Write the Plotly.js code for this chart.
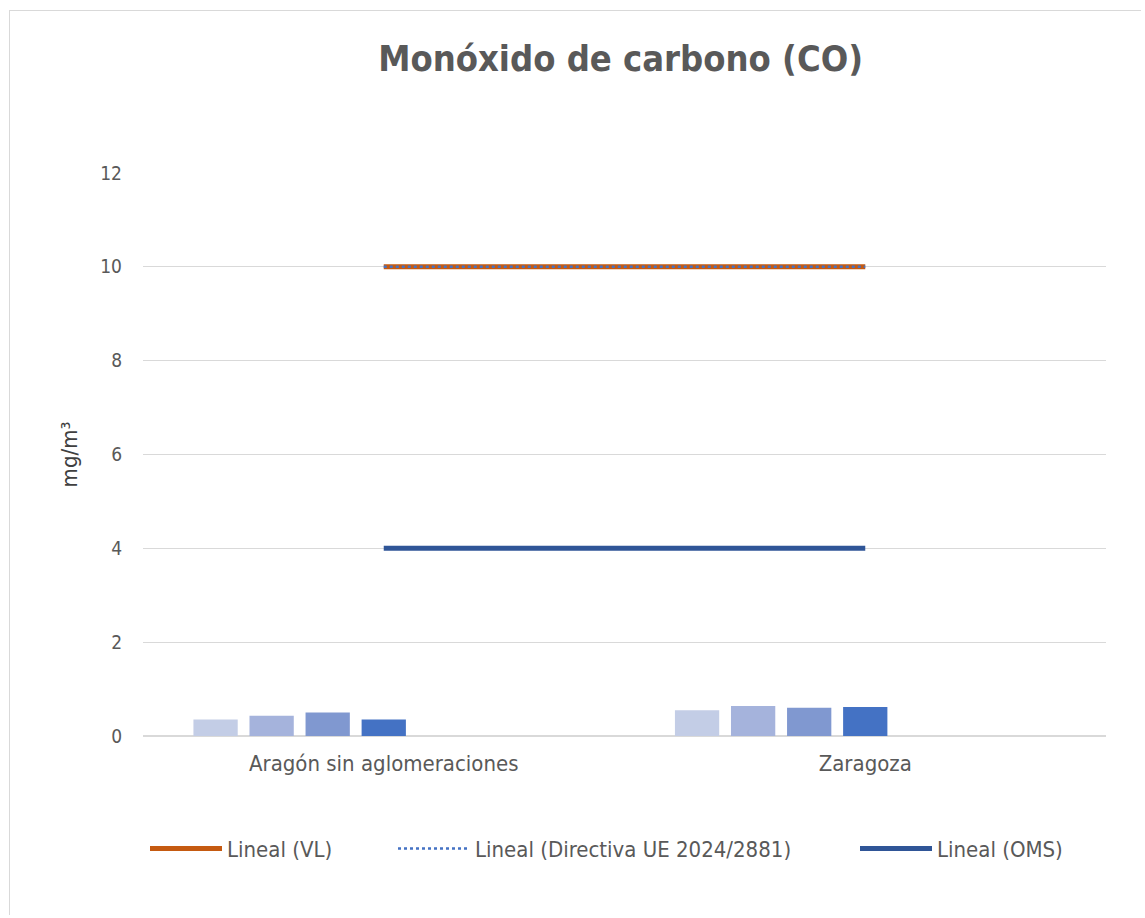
<!DOCTYPE html>
<html>
<head>
<meta charset="utf-8">
<script src="https://cdn.plot.ly/plotly-3.0.1.min.js"></script>
<style>
html,body{margin:0;padding:0;background:#fff;}
#wrap{position:relative;width:1145px;height:918px;}
#chart{position:absolute;left:0;top:0;width:1145px;height:918px;}
#frame{position:absolute;left:9px;top:10px;width:1131px;height:904px;border:1px solid #d9d9d9;border-right:none;border-bottom:none;pointer-events:none;}
</style>
</head>
<body>
<div id="wrap"><div id="chart"></div><div id="frame"></div></div>
<script>
const categories = ["Aragón sin aglomeraciones", "Zaragoza"];
const series1 = [0.35, 0.55];
const series2 = [0.43, 0.64];
const series3 = [0.50, 0.60];
const series4 = [0.35, 0.62];
const vl = [10, 10];
const directivaUE = [10, 10];
const oms = [4, 4];
const yTicks = [0, 2, 4, 6, 8, 10, 12];

const FONT = "Liberation Sans Narrow, DejaVu Sans Condensed, Open Sans, sans-serif";
const barColors = ["#C3CDE6", "#A5B3DC", "#8098D0", "#4472C4"];
const barVals = [series1, series2, series3, series4];

const traces = [];
barVals.forEach((v, i) => {
  traces.push({type: "bar", x: categories, y: v, marker: {color: barColors[i]},
    showlegend: false, hoverinfo: "skip"});
});
// hidden bar series for the limit values (they reserve group slots)
[vl, directivaUE, oms].forEach(v => {
  traces.push({type: "bar", x: categories, y: v, marker: {color: "rgba(0,0,0,0)"},
    showlegend: false, hoverinfo: "skip"});
});
traces.push({type: "scatter", mode: "lines", x: categories, y: vl, name: "Lineal (VL)",
  line: {color: "#C55A11", width: 5}, legend: "legend"});
traces.push({type: "scatter", mode: "lines", x: categories, y: directivaUE, name: "Lineal (Directiva UE 2024/2881)",
  line: {color: "#4472C4", width: 2.5, dash: "dot"}, legend: "legend2"});
traces.push({type: "scatter", mode: "lines", x: categories, y: oms, name: "Lineal (OMS)",
  line: {color: "#2F5597", width: 5}, legend: "legend3"});

const legFont = {family: FONT, size: 22, color: "#595959"};
function leg(px) {
  return {orientation: "h", x: (px - 143) / 963, y: -0.2, xanchor: "left", yanchor: "middle",
    font: legFont, itemwidth: 72, bgcolor: "rgba(0,0,0,0)", tracegroupgap: 0};
}

const layout = {
  width: 1145, height: 918,
  margin: {l: 143, r: 39, t: 173, b: 182},
  paper_bgcolor: "#fff", plot_bgcolor: "#fff",
  barmode: "group", bargap: 0.185, bargroupgap: 0.21,
  title: {text: "<b>Monóxido de carbono (CO)</b>", font: {family: FONT, size: 36, color: "#595959"},
    x: 0.542, xanchor: "center", y: 1 - 58/918, yanchor: "middle", yref: "container", xref: "container"},
  xaxis: {type: "category", tickfont: {family: FONT, size: 22, color: "#595959"},
    showgrid: false, showline: false, zeroline: false, ticks: "", ticklabelstandoff: 12},
  yaxis: {range: [0, 12], tickvals: yTicks, tickfont: {family: FONT, size: 19, color: "#595959"},
    showgrid: true, gridcolor: "#d9d9d9", gridwidth: 1, zeroline: true, zerolinecolor: "#d9d9d9", zerolinewidth: 1.5,
    showline: false, ticks: "", ticklabelstandoff: 20,
    title: {text: "mg/m³", font: {family: FONT, size: 22, color: "#404040"}, standoff: 16}},
  legend: leg(145),
  legend2: leg(393),
  legend3: leg(855),
  showlegend: true
};

Plotly.newPlot("chart", traces, layout, {displayModeBar: false, staticPlot: true});
</script>
</body>
</html>
